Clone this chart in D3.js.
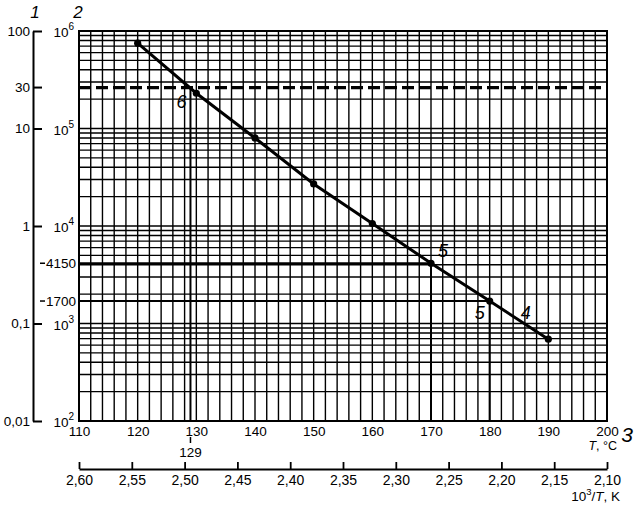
<!DOCTYPE html>
<html>
<head>
<meta charset="utf-8">
<script src="https://cdn.jsdelivr.net/npm/d3@7"></script>
<style>
  html, body { margin: 0; padding: 0; background: #fff; }
  svg { display: block; font-family: "Liberation Sans", Arial, sans-serif; }
</style>
</head>
<body>
<svg id="chart" width="635" height="510"></svg>
<script>
// ---- data ----
const tempC = [120, 130, 140, 150, 160, 170, 180, 190];
const hours = [750000, 230000, 80000, 27000, 10600, 4150, 1700, 690];
const tTicks = [110, 120, 130, 140, 150, 160, 170, 180, 190, 200];
const tTickLabels = ["110", "120", "130", "140", "150", "160", "170", "180", "190", "200"];
const invTTicks = [2.60, 2.55, 2.50, 2.45, 2.40, 2.35, 2.30, 2.25, 2.20, 2.15, 2.10];
const invTTickLabels = ["2,60", "2,55", "2,50", "2,45", "2,40", "2,35", "2,30", "2,25", "2,20", "2,15", "2,10"];
const hourDecades = [1e2, 1e3, 1e4, 1e5, 1e6];
const hourExponents = ["2", "3", "4", "5", "6"];
const yearTicks = [100, 10, 1, 0.1, 0.01];
const yearTickLabels = ["100", "10", "1", "0,1", "0,01"];
const lifeYearsLabel = "30";
const lifeHours = 263000;          // 30 years in hours
const refTemps = [129, 170, 180];
const refHours = [263000, 4150, 1700];
const refHourLabels = ["4150", "1700"];

// ---- scales ----
const svg = d3.select("#chart");
const X0 = 79, X1 = 607, Y0 = 421, Y1 = 31;
const x = d3.scaleLinear().domain([110, 200]).range([X0, X1]);
const y = d3.scaleLog().domain([1e2, 1e6]).range([Y0, Y1]);
const y1 = d3.scaleLog().domain([0.01, 100]).range([Y0, Y1]);
const xInv = d3.scaleLinear().domain([2.60, 2.10]).range([X0, X1]);
const FONT = "Liberation Sans, Arial, sans-serif";

// ---- grid ----
const g = svg.append("g");
const vGrid = d3.range(110, 201, 2);
g.selectAll("line.vg").data(vGrid).join("line")
  .attr("x1", d => x(d)).attr("x2", d => x(d))
  .attr("y1", Y1).attr("y2", Y0)
  .attr("stroke", "#000").attr("stroke-width", 1.4);
const hGrid = [];
hourDecades.slice(0, -1).forEach(d => { for (let k = 1; k <= 9; k++) hGrid.push(k * d); });
hGrid.push(1e6);
g.selectAll("line.hg").data(hGrid).join("line")
  .attr("x1", X0).attr("x2", X1)
  .attr("y1", d => y(d)).attr("y2", d => y(d))
  .attr("stroke", "#000").attr("stroke-width", 1.4);

// frame
svg.append("rect").attr("x", X0).attr("y", Y1).attr("width", X1 - X0).attr("height", Y0 - Y1)
  .attr("fill", "none").attr("stroke", "#000").attr("stroke-width", 2);

// ---- dashed life line ----
svg.append("line").attr("x1", X0).attr("x2", X1)
  .attr("y1", y(lifeHours)).attr("y2", y(lifeHours))
  .attr("stroke", "#000").attr("stroke-width", 3.2).attr("stroke-dasharray", "12,5");

// ---- reference lines ----
refTemps.forEach((t, i) => {
  svg.append("line").attr("x1", x(t)).attr("x2", x(t))
    .attr("y1", y(refHours[i])).attr("y2", Y0)
    .attr("stroke", "#000").attr("stroke-width", 2);
});
refTemps.slice(1).forEach((t, i) => {
  svg.append("line").attr("x1", X0).attr("x2", x(t))
    .attr("y1", y(refHours[i + 1])).attr("y2", y(refHours[i + 1]))
    .attr("stroke", "#000").attr("stroke-width", 2);
});

// ---- curve ----
const line = d3.line().x((d, i) => x(tempC[i])).y(d => y(d));
svg.append("path").datum(hours).attr("d", line)
  .attr("fill", "none").attr("stroke", "#000").attr("stroke-width", 3);
svg.selectAll("circle.pt").data(hours).join("circle")
  .attr("cx", (d, i) => x(tempC[i])).attr("cy", d => y(d)).attr("r", 3.6).attr("fill", "#000");

// ---- curve labels ----
const lab = (px, py, txt) => svg.append("text").attr("x", px).attr("y", py)
  .attr("text-anchor", "middle").attr("font-size", 18).attr("font-style", "italic").text(txt);
lab(x(refTemps[0]) - 9, y(refHours[0]) + 20, "6");
lab(x(refTemps[1]) + 12, y(refHours[1]) - 6, "5");
lab(x(refTemps[2]) - 10, y(refHours[2]) + 18, "5");
lab(x(refTemps[2]) + 36, y(refHours[2]) + 18, "4");

// ---- T axis ----
const tAxis = svg.append("g").attr("transform", `translate(0,${Y0})`)
  .call(d3.axisBottom(x).tickValues(tTicks).tickFormat((d, i) => tTickLabels[i]).tickSize(0).tickPadding(5));
tAxis.select(".domain").remove();
tAxis.selectAll("text").attr("font-size", 13.5).attr("font-family", FONT).attr("fill", "#000");
// 129 marker
svg.append("line").attr("x1", x(refTemps[0])).attr("x2", x(refTemps[0])).attr("y1", 437).attr("y2", 443)
  .attr("stroke", "#000").attr("stroke-width", 1.5);
svg.append("text").attr("x", x(refTemps[0])).attr("y", 457).attr("text-anchor", "middle")
  .attr("font-size", 13.5).text(String(refTemps[0]));
const tl = svg.append("text").attr("x", 617).attr("y", 450).attr("text-anchor", "end").attr("font-size", 12.5);
tl.append("tspan").attr("font-style", "italic").text("T");
tl.append("tspan").text(", °C");
svg.append("text").attr("x", 627).attr("y", 442).attr("text-anchor", "middle")
  .attr("font-size", 21).attr("font-style", "italic").text("3");

// ---- 1/T axis ----
const iAxis = svg.append("g").attr("transform", "translate(0,469)")
  .call(d3.axisBottom(xInv).tickValues(invTTicks).tickFormat((d, i) => invTTickLabels[i])
    .tickSizeInner(-7).tickSizeOuter(0).tickPadding(6));
iAxis.select(".domain").attr("stroke-width", 1.8);
iAxis.selectAll(".tick line").attr("stroke-width", 1.8);
iAxis.selectAll("text").attr("font-size", 14).attr("font-family", FONT).attr("fill", "#000");
const il = svg.append("text").attr("x", 620).attr("y", 501).attr("text-anchor", "end").attr("font-size", 13.5);
il.append("tspan").text("10");
il.append("tspan").attr("font-size", 9.5).attr("dy", -6).text("3");
il.append("tspan").attr("dy", 6).text("/");
il.append("tspan").attr("font-style", "italic").text("T");
il.append("tspan").text(", K");

// ---- axis 1 (years) ----
const a1 = svg.append("g").attr("transform", "translate(33,0)")
  .call(d3.axisLeft(y1).tickValues(yearTicks).tickFormat((d, i) => yearTickLabels[i])
    .tickSizeInner(-9).tickSizeOuter(0).tickPadding(3));
a1.select(".domain").attr("stroke-width", 2);
a1.selectAll(".tick line").attr("stroke-width", 2);
a1.selectAll("text").attr("font-size", 13.5).attr("font-family", FONT).attr("fill", "#000");
svg.append("line").attr("x1", 33).attr("x2", 42).attr("y1", y(lifeHours)).attr("y2", y(lifeHours))
  .attr("stroke", "#000").attr("stroke-width", 2);
svg.append("text").attr("x", 30).attr("y", y(lifeHours)).attr("dy", "0.32em").attr("text-anchor", "end")
  .attr("font-size", 13.5).text(lifeYearsLabel);
refHours.slice(1).forEach((h, i) => {
  svg.append("line").attr("x1", 40).attr("x2", 45).attr("y1", y(h)).attr("y2", y(h))
    .attr("stroke", "#000").attr("stroke-width", 1.5);
  svg.append("text").attr("x", 76).attr("y", y(h)).attr("dy", "0.36em").attr("text-anchor", "end")
    .attr("font-size", 13.5).text(refHourLabels[i]);
});

// ---- axis 2 (hours) labels ----
hourDecades.forEach((d, i) => {
  const t = svg.append("text").attr("x", 74).attr("y", y(d) + 6).attr("text-anchor", "end").attr("font-size", 13.5);
  t.append("tspan").text("10");
  t.append("tspan").attr("font-size", 10).attr("dy", -7).text(hourExponents[i]);
});

// ---- header labels ----
svg.append("text").attr("x", 35).attr("y", 18).attr("text-anchor", "middle")
  .attr("font-size", 17).attr("font-style", "italic").text("1");
svg.append("text").attr("x", 78).attr("y", 18).attr("text-anchor", "middle")
  .attr("font-size", 17).attr("font-style", "italic").text("2");
</script>
</body>
</html>
